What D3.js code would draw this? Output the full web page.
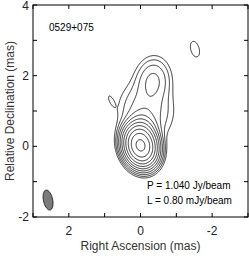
<!DOCTYPE html>
<html>
<head>
<meta charset="utf-8">
<script src="https://cdn.jsdelivr.net/npm/d3@7"></script>
<style>
  body { margin: 0; background: #fff; }
  svg text { font-family: "Liberation Sans", Arial, Helvetica, sans-serif; }
</style>
</head>
<body>
<div id="chart"></div>
<script>
// setting up constants
const FRAME_WIDTH = 249;
const FRAME_HEIGHT = 256;
const MARGINS = {left: 33, right: 1, top: 5, bottom: 39};
const VIS_WIDTH = FRAME_WIDTH - MARGINS.left - MARGINS.right;
const VIS_HEIGHT = FRAME_HEIGHT - MARGINS.top - MARGINS.bottom;

// axis ranges (mas), RA increases to the left
const RA_DOMAIN = [3, -3];
const DEC_DOMAIN = [-2, 4];
const X_TICKS = [2, 0, -2];
const Y_TICKS = [4, 2, 0, -2];
const X_MINOR = [3, 2, 1, 0, -1, -2, -3];
const Y_MINOR = [-2, -1, 0, 1, 2, 3, 4];

// gaussian components: position (mas), peak (mJy/beam), fwhm (mas), PA (deg)
const compX    = [0.00, -0.05, -0.15, -0.35, 0.82, -1.52];
const compY    = [0.02,  0.35,  1.00,  1.85, 1.30,  2.75];
const compPeak = [985,   55,    5.0,   7.4,  1.00,  1.22];
const compMaj  = [0.58,  0.62,  1.10,  0.80, 0.35,  0.58];
const compMin  = [0.44,  0.46,  0.95,  0.58, 0.13,  0.30];
const compPA   = [15,    5,     0,     -5,   25,    15];

// contour levels: L = 0.80 mJy/beam, doubling
const LEVELS = [0.8, 1.6, 3.2, 6.4, 12.8, 25.6, 51.2, 102.4, 204.8, 409.6, 819.2];

// restoring beam
const BEAM = {maj: 0.58, min: 0.26, pa: 12};

const LABEL_SOURCE = "0529+075";
const LABEL_PEAK = "P = 1.040 Jy/beam";
const LABEL_LOWEST = "L = 0.80 mJy/beam";

const svg = d3.select('#chart')
  .append('svg')
    .attr('width', FRAME_WIDTH)
    .attr('height', FRAME_HEIGHT);

const FRAME = svg.append('g')
  .attr('transform', 'translate(' + MARGINS.left + ',' + MARGINS.top + ')');

const xScale = d3.scaleLinear().domain(RA_DOMAIN).range([0, VIS_WIDTH]);
const yScale = d3.scaleLinear().domain(DEC_DOMAIN).range([VIS_HEIGHT, 0]);

// build the brightness grid from the components
const STEP = 0.02;
const NX = Math.round((RA_DOMAIN[0] - RA_DOMAIN[1]) / STEP) + 1;
const NY = Math.round((DEC_DOMAIN[1] - DEC_DOMAIN[0]) / STEP) + 1;
const K = 4 * Math.LN2;
const values = new Float64Array(NX * NY);
for (let j = 0; j < NY; j++) {
  const dec = DEC_DOMAIN[1] - j * STEP;
  for (let i = 0; i < NX; i++) {
    const ra = RA_DOMAIN[0] - i * STEP;
    let s = 0;
    for (let c = 0; c < compX.length; c++) {
      const pa = compPA[c] * Math.PI / 180;
      const dx = ra - compX[c], dy = dec - compY[c];
      const u = dx * Math.sin(pa) + dy * Math.cos(pa);
      const v = dx * Math.cos(pa) - dy * Math.sin(pa);
      s += compPeak[c] * Math.exp(-K * ((u / compMaj[c]) ** 2 + (v / compMin[c]) ** 2));
    }
    values[j * NX + i] = s;
  }
}

const contours = d3.contours().size([NX, NY]).thresholds(LEVELS)(values);

const proj = d3.geoTransform({
  point: function(gx, gy) {
    const ra = RA_DOMAIN[0] - (gx - 0.5) * STEP;
    const dec = DEC_DOMAIN[1] - (gy - 0.5) * STEP;
    this.stream.point(xScale(ra), yScale(dec));
  }
});
const path = d3.geoPath(proj);

FRAME.append('g')
  .selectAll('path')
  .data(contours)
  .enter()
  .append('path')
    .attr('d', path)
    .attr('fill', 'none')
    .attr('stroke', '#000')
    .attr('stroke-width', 0.8)
    .attr('stroke-linejoin', 'round');

// beam in lower left corner
const beamX = 2.58, beamY = -1.52;
FRAME.append('ellipse')
  .attr('cx', 0).attr('cy', 0)
  .attr('rx', (BEAM.min / 2) * Math.abs(xScale(0) - xScale(1)))
  .attr('ry', (BEAM.maj / 2) * Math.abs(yScale(0) - yScale(1)))
  .attr('transform', 'translate(' + xScale(beamX) + ',' + yScale(beamY) + ') rotate(' + (-BEAM.pa) + ')')
  .attr('fill', '#7a7a7a')
  .attr('stroke', '#222')
  .attr('stroke-width', 0.8);

// frame
FRAME.append('rect')
  .attr('x', 0).attr('y', 0)
  .attr('width', VIS_WIDTH).attr('height', VIS_HEIGHT)
  .attr('fill', 'none')
  .attr('stroke', '#000')
  .attr('stroke-width', 1);

// inward ticks on all sides
const TICK = 4;
const ticks = FRAME.append('g').attr('stroke', '#000').attr('stroke-width', 1);
X_MINOR.forEach(function(t) {
  ticks.append('line').attr('x1', xScale(t)).attr('x2', xScale(t)).attr('y1', VIS_HEIGHT).attr('y2', VIS_HEIGHT - TICK);
  ticks.append('line').attr('x1', xScale(t)).attr('x2', xScale(t)).attr('y1', 0).attr('y2', TICK);
});
Y_MINOR.forEach(function(t) {
  ticks.append('line').attr('y1', yScale(t)).attr('y2', yScale(t)).attr('x1', 0).attr('x2', TICK);
  ticks.append('line').attr('y1', yScale(t)).attr('y2', yScale(t)).attr('x1', VIS_WIDTH).attr('x2', VIS_WIDTH - TICK);
});

// tick labels
FRAME.append('g').selectAll('text')
  .data(X_TICKS).enter().append('text')
    .attr('x', d => xScale(d))
    .attr('y', VIS_HEIGHT + 18)
    .attr('text-anchor', 'middle')
    .attr('font-size', 12)
    .attr('fill', '#222')
    .text(d => d);
FRAME.append('g').selectAll('text')
  .data(Y_TICKS).enter().append('text')
    .attr('x', -4)
    .attr('y', d => Math.max(yScale(d) + 4, 5))
    .attr('text-anchor', 'end')
    .attr('font-size', 12)
    .attr('fill', '#222')
    .text(d => d);

// axis titles
svg.append('text')
  .attr('x', MARGINS.left + xScale(0))
  .attr('y', 250)
  .attr('text-anchor', 'middle')
  .attr('font-size', 12)
  .attr('fill', '#333')
  .text('Right Ascension (mas)');
svg.append('text')
  .attr('transform', 'translate(14,' + (MARGINS.top + VIS_HEIGHT / 2) + ') rotate(-90)')
  .attr('text-anchor', 'middle')
  .attr('font-size', 12)
  .attr('fill', '#333')
  .text('Relative Declination (mas)');

// annotations
FRAME.append('text')
  .attr('x', 16).attr('y', 26)
  .attr('font-size', 10)
  .text(LABEL_SOURCE);
FRAME.append('text')
  .attr('x', 114).attr('y', 184)
  .attr('font-size', 10)
  .text(LABEL_PEAK);
FRAME.append('text')
  .attr('x', 114).attr('y', 199)
  .attr('font-size', 10)
  .text(LABEL_LOWEST);
</script>
</body>
</html>
